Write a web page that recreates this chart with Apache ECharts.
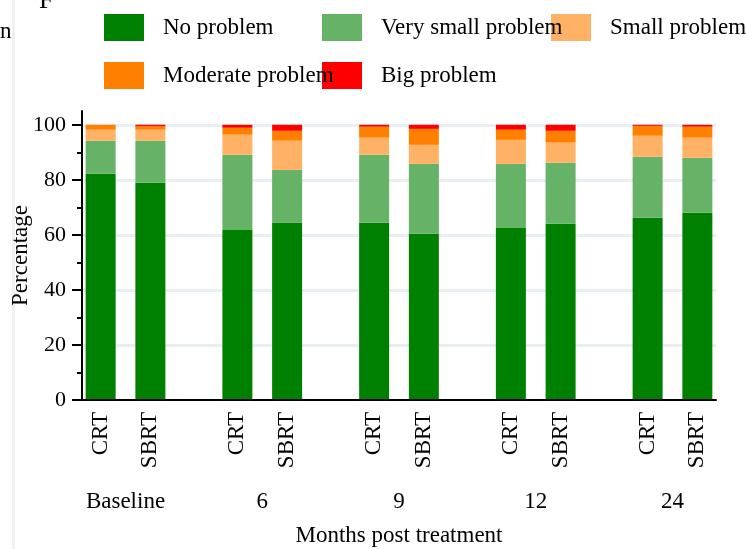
<!DOCTYPE html>
<html>
<head>
<meta charset="utf-8">
<script src="https://cdn.jsdelivr.net/npm/echarts@6/dist/echarts.min.js"></script>
<style>
  html, body { margin: 0; padding: 0; background: #ffffff; }
  #chart { width: 746px; height: 549px; }
</style>
</head>
<body>
<div id="chart"></div>
<script>
// Time points and treatment arms
const timePoints = ['Baseline', '6', '9', '12', '24'];
const arms = ['CRT', 'SBRT'];

// Percentages per bar, ordered CRT, SBRT for each time point
const noProblem        = [82.2, 78.9, 61.8, 64.5, 64.4, 60.4, 62.5, 64.0, 66.2, 68.0];
const verySmallProblem = [12.0, 15.3, 27.3, 19.1, 24.7, 25.4, 23.3, 22.2, 22.2, 20.0];
const smallProblem     = [ 4.0,  4.0,  7.3, 10.6,  6.2,  6.9,  8.7,  7.3,  7.6,  7.3];
const moderateProblem  = [ 1.8,  1.3,  2.5,  3.6,  4.0,  5.8,  3.7,  4.3,  3.6,  4.0];
const bigProblem       = [ 0.0,  0.5,  1.1,  2.2,  0.7,  1.5,  1.8,  2.2,  0.4,  0.7];

const seriesNames = ['No problem', 'Very small problem', 'Small problem', 'Moderate problem', 'Big problem'];
const seriesValues = [noProblem, verySmallProblem, smallProblem, moderateProblem, bigProblem];
const seriesColors = ['#008000', '#66b266', '#ffb266', '#ff8000', '#ff0000'];

// Y axis ticks
const majorTicks = [0, 20, 40, 60, 80, 100];
const minorTicks = [10, 30, 50, 70, 90];

// The x axis is split into narrow slots: bars of one time point sit 4 slots apart,
// time points sit 11 slots apart, leaving empty slots as spacing.
const SLOT_COUNT = 51, FIRST_SLOT = 1, ARM_STEP = 4, GROUP_STEP = 11;
const slotOf = (g, a) => FIRST_SLOT + g * GROUP_STEP + a * ARM_STEP;

const armLabels = new Array(SLOT_COUNT).fill('');
const groupLabels = new Array(SLOT_COUNT).fill('');
timePoints.forEach((t, g) => {
  arms.forEach((arm, a) => { armLabels[slotOf(g, a)] = arm; });
  groupLabels[slotOf(g, 0) + ARM_STEP / 2] = t;
});
const slotKeys = armLabels.map((_, i) => 'slot' + i);

function toSlots(values) {
  const out = new Array(SLOT_COUNT).fill('-');
  timePoints.forEach((t, g) => {
    arms.forEach((arm, a) => { out[slotOf(g, a)] = values[g * arms.length + a]; });
  });
  return out;
}

const FONT = "'Liberation Serif', 'Times New Roman', serif";
const textBase = { fontFamily: FONT, fontSize: 23, color: '#000' };

const legendPos = [[104, 14], [322, 14], [551, 14], [104, 62], [322, 62]];
const legends = seriesNames.map((name, i) => ({
  data: [name],
  left: legendPos[i][0],
  top: legendPos[i][1],
  z: 10 - i,
  padding: 0,
  icon: 'rect',
  itemWidth: 40,
  itemHeight: 27,
  selectedMode: false,
  textStyle: Object.assign({}, textBase, { padding: [0, 0, 0, 14] })
}));

const chart = echarts.init(document.getElementById('chart'), null, { renderer: 'canvas' });
chart.setOption({
  animation: false,
  backgroundColor: '#ffffff',
  legend: legends,
  grid: { left: 82, right: 30, top: 111, bottom: 149, containLabel: false, outerBoundsMode: 'none' },
  xAxis: [
    {
      type: 'category',
      data: slotKeys,
      axisLine: { show: true, lineStyle: { color: '#000', width: 2 } },
      axisTick: { show: false },
      axisLabel: Object.assign({}, textBase, {
        interval: 0, rotate: 90, margin: 12,
        formatter: (v, i) => armLabels[i]
      }),
      splitLine: { show: false },
      z: 5
    },
    {
      type: 'category',
      position: 'bottom',
      data: slotKeys,
      axisLine: { show: false },
      axisTick: { show: false },
      axisLabel: Object.assign({}, textBase, {
        interval: 0, margin: 90,
        formatter: (v, i) => groupLabels[i]
      }),
      name: 'Months post treatment',
      nameLocation: 'middle',
      nameGap: 124,
      nameMoveOverlap: false,
      nameTextStyle: textBase
    }
  ],
  yAxis: [
    {
      type: 'value',
      min: 0, max: 105, interval: 20,
      axisLine: { show: true, lineStyle: { color: '#000', width: 2 } },
      axisTick: { show: true, length: 10, customValues: majorTicks, lineStyle: { color: '#000', width: 2 } },
      axisLabel: Object.assign({}, textBase, { fontSize: 22, margin: 16, customValues: majorTicks }),
      splitLine: { show: false },
      name: 'Percentage',
      nameLocation: 'middle',
      nameRotate: 90,
      nameGap: 50,
      nameMoveOverlap: false,
      nameTextStyle: textBase,
      z: 5
    },
    {
      type: 'value',
      position: 'left',
      min: 0, max: 105,
      axisLine: { show: false },
      axisTick: { show: true, length: 5, customValues: minorTicks, lineStyle: { color: '#000', width: 2 } },
      axisLabel: { show: false },
      splitLine: { show: false }
    }
  ],
  graphic: [
    { type: 'rect', shape: { x: 12, y: 0, width: 3, height: 549 }, style: { fill: '#edf1f4' }, silent: true, z: -1 },
    { type: 'text', x: 0, y: 43, style: { text: 'n', font: '23px ' + FONT, fill: '#000', verticalAlign: 'bottom' } },
    { type: 'text', x: 39, y: 14, style: { text: 'F', font: '26px ' + FONT, fill: '#000', verticalAlign: 'bottom' } }
  ],
  series: seriesNames.map((name, i) => ({
    name: name,
    type: 'bar',
    stack: 'total',
    barWidth: 30,
    itemStyle: { color: seriesColors[i] },
    data: toSlots(seriesValues[i]),
    markLine: i === 0 ? {
      silent: true,
      z: 0,
      symbol: 'none',
      label: { show: false },
      lineStyle: { color: '#e8eef2', width: 3, type: 'solid' },
      data: majorTicks.filter(v => v > 0).map(v => ({ yAxis: v }))
    } : undefined,
    z: 2
  }))
});
</script>
</body>
</html>
